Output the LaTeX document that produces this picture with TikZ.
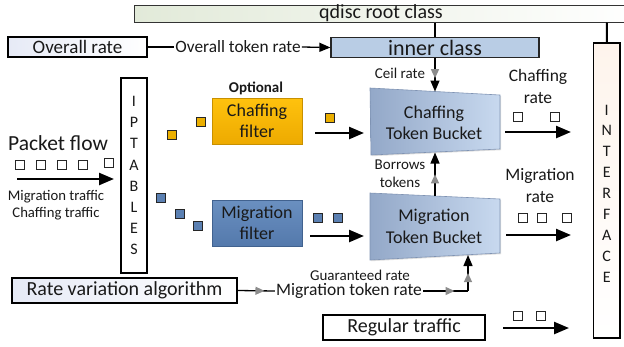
\documentclass[tikz,border=0pt]{standalone}
\usepackage{fontspec}
\setmainfont{Carlito}
\usetikzlibrary{arrows.meta,decorations.markings,shadows}
\definecolor{qdiscL}{HTML}{E2EAD9}
\definecolor{lav}{HTML}{E6EAF6}
\definecolor{innerC}{HTML}{B9CDE5}
\definecolor{peach}{HTML}{FEF4EC}
\definecolor{goldT}{HTML}{FFC20E}
\definecolor{goldB}{HTML}{EDAA00}
\definecolor{goldD}{HTML}{C89000}
\definecolor{migT}{HTML}{6A90C0}
\definecolor{migB}{HTML}{5479AC}
\definecolor{migD}{HTML}{41628F}
\definecolor{bucL}{HTML}{93A8C8}
\definecolor{bucR}{HTML}{C8D9EF}
\definecolor{bucD}{HTML}{7F93B3}
\definecolor{sqO}{HTML}{EBAF00}
\definecolor{sqB}{HTML}{5B80B2}
\definecolor{tipG}{HTML}{8C8C8C}
\begin{document}
\begin{tikzpicture}[x=1pt,y=-1pt,
  txt/.style={inner sep=1pt, text=black!90},
  plainbox/.style={draw=black, line width=1.3pt, inner sep=0pt, text=black!90},
  sq/.style={draw=black!85, line width=0.8pt, minimum size=9pt, inner sep=0pt},
  thickarr/.style={line width=2.4pt, -{Triangle[length=15pt,width=12pt]}},
  thinarr/.style={line width=1.3pt, -{Triangle[length=11pt,width=9pt]}},
  thinline/.style={line width=1.3pt},
  midgray/.style={postaction={decorate}, decoration={markings,
     mark=at position #1 with {\arrow{Triangle[length=9pt,width=8pt,color=tipG]}}}},
  fs/.style={font=\fontsize{#1}{#1}\selectfont},
  sh/.style={drop shadow={opacity=0.25, shadow xshift=1.2pt, shadow yshift=-1.2pt}}
]
\useasboundingbox (0,0) rectangle (624,346);

% qdisc root class
\shade[left color=qdiscL, right color=white, draw=black!80, line width=1pt]
  (134,5) rectangle (640,22.5);
\node[txt, fs=20] (qd) at (381,13) {qdisc root class};
\coordinate (qdA) at (435,22.5);
\coordinate (qdB) at (607,22.5);

% Overall rate
\node[plainbox, minimum width=139pt, minimum height=20pt, fs=19,
      left color=lav, right color=white] (or) at (77.5,47) {Overall rate};
\node[txt, fs=17.3] (otr) at (238,47) {Overall token rate};
\node[draw=black!85, line width=1.2pt, inner sep=0pt, minimum width=208pt, minimum height=20.5pt,
      fill=innerC, fs=22, text=black!90] (ic) at (435,47.5) {inner class};
\draw[thinline] (or.east) -- (otr.west);
\draw[thinarr] (otr.east) -- (ic.west);
\draw[line width=2pt] (qdA) -- (ic.north);

% Interface
\shade[top color=peach, bottom color=white, draw=black, line width=1.3pt]
  (593.5,43) rectangle (620,338);
\node[inner sep=0pt, minimum width=26.5pt, minimum height=295pt] (itf) at (606.75,190.5) {};
\node[txt, align=center, font=\fontsize{16}{20.9}\selectfont] (itft) at (606.75,193.5)
  {I\\N\\T\\E\\R\\F\\A\\C\\E};
\draw[line width=2pt] (qdB) -- (itf.north);

% IPTABLES
\node[plainbox, fill=white, minimum width=26pt, minimum height=195pt, align=center,
      font=\fontsize{16}{21.1}\selectfont] (ipt) at (134,175.5) {I\\P\\T\\A\\B\\L\\E\\S};

% Packet flow
\node[txt, fs=21.5] (pf) at (58,143) {Packet flow};
\foreach \x/\y [count=\i] in {19.5/164.5,40.5/164.5,62/164.5,83/164.5,108.5/162.5}
  \node[sq, fill=white] (pq\i) at (\x,\y) {};
\coordinate (pfa) at (17,179);
\coordinate (pfb) at (114,179);
\draw[thickarr] (pfa) -- (pfb);
\node[txt, align=center, font=\fontsize{14.7}{17}\selectfont] (mct) at (56,205.5)
  {Migration traffic\\Chaffing traffic};

% Filters
\node[txt, font=\bfseries\fontsize{15}{15}\selectfont] (opt) at (256,88) {Optional};
\node[draw=goldD, line width=0.8pt, top color=goldT, bottom color=goldB, sh,
      minimum width=90pt, minimum height=46pt, align=center, inner sep=0pt,
      font=\fontsize{18}{21}\selectfont, text=black!90] (cf) at (257,121) {Chaffing\\filter};
\node[draw=migD, line width=0.8pt, top color=migT, bottom color=migB, sh,
      minimum width=90pt, minimum height=46pt, align=center, inner sep=0pt,
      font=\fontsize{18}{21}\selectfont, text=black!90] (mf) at (257,223) {Migration\\filter};

% squares
\node[sq, fill=sqO] (o1) at (172,135) {};
\node[sq, fill=sqO] (o2) at (201,122) {};
\node[sq, fill=sqO] (o3) at (330,118) {};
\node[sq, fill=sqB] (b1) at (161,198) {};
\node[sq, fill=sqB] (b2) at (180,214) {};
\node[sq, fill=sqB] (b3) at (198,226) {};
\node[sq, fill=sqB] (b4) at (318,218) {};
\node[sq, fill=sqB] (b5) at (338,218) {};

\coordinate (cfa) at (315,133);
\coordinate (cfb) at (364,133);
\draw[thickarr] (cfa) -- (cfb);
\coordinate (mfa) at (310,236);
\coordinate (mfb) at (364,236);
\draw[thickarr] (mfa) -- (mfb);

% Token buckets
\shade[left color=bucL, right color=bucR, draw=bucD, line width=0.6pt, sh]
  (370,88) -- (500,95) -- (500,149) -- (371,155) -- cycle;
\node[txt, align=center, font=\fontsize{18}{21}\selectfont] (ctb) at (434,123) {Chaffing\\Token Bucket};
\shade[left color=bucL, right color=bucR, draw=bucD, line width=0.6pt, sh]
  (370,193) -- (500,199) -- (500,253) -- (370,260) -- cycle;
\node[txt, align=center, font=\fontsize{18}{22}\selectfont] (mtb) at (434,226) {Migration\\Token Bucket};
\coordinate (ctbTop) at (435,91.5);
\coordinate (ctbBot) at (435,152.5);
\coordinate (mtbTop) at (435,196);
\coordinate (mtbBot) at (468,255);

% Ceil rate
\node[txt, fs=15] (ceil) at (400,73) {Ceil rate};
\draw[thinarr, midgray=0.6] (ic.south) -- (ctbTop);

% Borrows tokens
\node[txt, align=center, font=\fontsize{15}{18}\selectfont] (bt) at (400,174) {Borrows\\tokens};
\draw[thinarr, midgray=0.5] (mtbTop) -- (ctbBot);

% Output rates
\node[txt, align=center, font=\fontsize{17.5}{22}\selectfont] (cr) at (538,86) {Chaffing\\rate};
\node[sq, fill=white] (cr1) at (518,117) {};
\node[sq, fill=white] (cr2) at (555,117) {};
\coordinate (cra) at (505,132);
\coordinate (crb) at (571,132);
\draw[thickarr] (cra) -- (crb);

\node[txt, align=center, font=\fontsize{17.5}{22}\selectfont] (mr) at (540,186) {Migration\\rate};
\node[sq, fill=white] (mr1) at (523,218) {};
\node[sq, fill=white] (mr2) at (542,218) {};
\node[sq, fill=white] (mr3) at (567,218) {};
\coordinate (mra) at (506,235);
\coordinate (mrb) at (571,235);
\draw[thickarr] (mra) -- (mrb);

% Rate variation algorithm
\node[plainbox, minimum width=225pt, minimum height=25pt, fs=20,
      left color=lav, right color=white] (rva) at (124.5,290.5) {Rate variation algorithm};
\node[txt, fs=17.5] (mtr) at (349,291) {Migration token rate};
\node[txt, fs=15] (gr) at (360,275) {Guaranteed rate};
\coordinate (gcorner) at (468,291);
\draw[thinline, midgray=0.72] (rva.east) -- (mtr.west);
\draw[thinline, midgray=0.7] (mtr.east) -- (gcorner);
\draw[thinarr, midgray=0.5] (gcorner) -- (mtbBot);

% Regular traffic
\node[plainbox, fill=white, minimum width=162pt, minimum height=25pt, fs=20] (rt) at (404,327.5) {Regular traffic};
\node[sq, fill=white] (rt1) at (518,315.5) {};
\node[sq, fill=white] (rt2) at (541,315.5) {};
\coordinate (rta) at (503,328);
\coordinate (rtb) at (569,328);
\draw[thickarr] (rta) -- (rtb);
\end{tikzpicture}
\end{document}
